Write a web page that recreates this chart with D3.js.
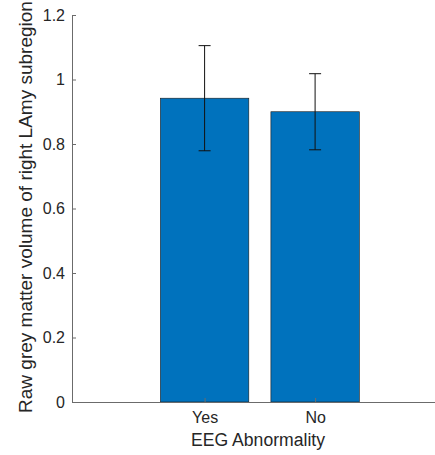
<!DOCTYPE html>
<html>
  <head>
    <meta charset="utf-8" />
    <script src="https://d3js.org/d3.v7.min.js"></script>
    <style>
    body { margin: 0; background: #fff; }
    text { font-family: "Liberation Sans", Arial, sans-serif; fill: #262626; }
    </style>
  </head>
  <body>
    <div id="master"></div>
    <script type="text/javascript">
var categories = ["Yes", "No"];
var means = [0.942, 0.900];
var errs = [0.163, 0.118];
var yTicks = [0, 0.2, 0.4, 0.6, 0.8, 1, 1.2];
var yTickLabels = ["0", "0.2", "0.4", "0.6", "0.8", "1", "1.2"];

var width = 435, height = 455;
// note: "top" clashes with window.top, so plot edges get their own names
var plotLeft = 72, plotRight = 435, plotTop = 15, plotBottom = 402;

var svg = d3.select("#master").append("svg")
  .attr("width", width)
  .attr("height", height);

// categories sit at 1 and 2 like matlab's bar()
var x = d3.scaleLinear().domain([-0.2, 3.085]).range([plotLeft, plotRight]);
var y = d3.scaleLinear().domain([0, 1.2]).range([plotBottom, plotTop]);
var barW = x(0.8) - x(0);

svg.selectAll(".bar")
  .data(means)
  .enter()
  .append("rect")
    .attr("class", "bar")
    .attr("x", function(d, i) { return x(i + 1) - barW / 2; })
    .attr("y", function(d) { return y(d); })
    .attr("width", barW)
    .attr("height", function(d) { return y(0) - y(d); })
    .attr("fill", "#0072BD")
    .attr("stroke", "#1a1a1a")
    .attr("stroke-width", 0.6);

// axes, ticks pointing inwards
var yAxis = d3.axisLeft(y).tickValues(yTicks)
  .tickFormat(function(d, i) { return yTickLabels[i]; })
  .tickSizeInner(-4).tickSizeOuter(0).tickPadding(7);
var gy = svg.append("g").attr("transform", "translate(" + plotLeft + ",0)").call(yAxis);

var xAxis = d3.axisBottom(x).tickValues([1, 2])
  .tickFormat(function(d) { return categories[d - 1]; })
  .tickSizeInner(-4).tickSizeOuter(0).tickPadding(10);
var gx = svg.append("g").attr("transform", "translate(0," + plotBottom + ")").call(xAxis);

[gx, gy].forEach(function(g) {
  g.select(".domain").attr("stroke", "#6b6b6b");
  g.selectAll(".tick line").attr("stroke", "#6b6b6b");
  g.selectAll("text").attr("font-size", 16).attr("fill", "#262626")
    .style("font-family", "'Liberation Sans', Arial, sans-serif");
});

// error bars
var cap = 6;
var eb = svg.selectAll(".err")
  .data(means)
  .enter()
  .append("g")
    .attr("class", "err")
    .attr("stroke", "#111")
    .attr("stroke-width", 1);
eb.append("line")
  .attr("x1", function(d, i) { return x(i + 1); })
  .attr("x2", function(d, i) { return x(i + 1); })
  .attr("y1", function(d, i) { return y(d - errs[i]); })
  .attr("y2", function(d, i) { return y(d + errs[i]); });
eb.append("line")
  .attr("x1", function(d, i) { return x(i + 1) - cap; })
  .attr("x2", function(d, i) { return x(i + 1) + cap; })
  .attr("y1", function(d, i) { return y(d + errs[i]); })
  .attr("y2", function(d, i) { return y(d + errs[i]); });
eb.append("line")
  .attr("x1", function(d, i) { return x(i + 1) - cap; })
  .attr("x2", function(d, i) { return x(i + 1) + cap; })
  .attr("y1", function(d, i) { return y(d - errs[i]); })
  .attr("y2", function(d, i) { return y(d - errs[i]); });

svg.append("text")
  .attr("x", 258)
  .attr("y", 446)
  .attr("text-anchor", "middle")
  .attr("font-size", 17.6)
  .text("EEG Abnormality");

svg.append("text")
  .attr("transform", "translate(32," + 207 + ") rotate(-90)")
  .attr("text-anchor", "middle")
  .attr("font-size", 19)
  .text("Raw grey matter volume of right LAmy subregion");
    </script>
  </body>
</html>
